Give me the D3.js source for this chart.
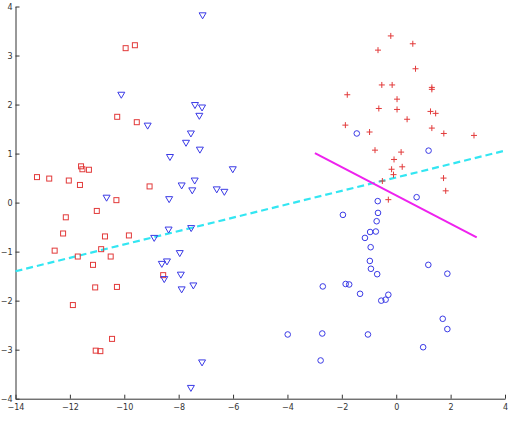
<!DOCTYPE html>
<html>
<head>
<meta charset="utf-8">
<script src="https://cdn.jsdelivr.net/npm/d3@7"></script>
<style>
  body { margin: 0; background: #fff; }
  svg { display: block; }
  .tick text { font-family: "DejaVu Sans", sans-serif; font-size: 8px; fill: #333; }
  .axis path, .axis line { stroke: #333; }
</style>
</head>
<body>
<svg id="chart" width="510" height="424"></svg>
<script>
// class 1 (red squares), class 2 (blue triangles), class 3 (red plus), class 4 (blue circles)
const squaresX = [-9.95, -9.61, -10.26, -9.54, -13.21, -12.76, -12.04, -11.63, -11.59, -11.54, -11.30, -9.07, -10.29, -11.01,
  -12.15, -12.25, -12.56, -11.71, -10.71, -9.83, -10.85, -10.50, -11.15, -11.07, -10.27, -11.89, -8.57, -10.45, -11.05, -10.88];
const squaresY = [3.15, 3.21, 1.75, 1.64, 0.52, 0.49, 0.45, 0.36, 0.74, 0.68, 0.67, 0.33, 0.05, -0.17,
  -0.30, -0.63, -0.98, -1.10, -0.69, -0.67, -0.95, -1.10, -1.27, -1.73, -1.72, -2.09, -1.48, -2.78, -3.02, -3.03];

const trianglesX = [-7.12, -10.11, -7.40, -7.14, -7.24, -9.14, -7.55, -7.73, -7.22, -8.32, -6.01, -7.89, -7.41, -7.50, -6.60,
  -6.32, -10.65, -8.35, -8.90, -8.37, -7.54, -7.96, -8.62, -8.43, -7.92, -8.53, -7.89, -7.46, -7.14, -7.55];
const trianglesY = [3.82, 2.20, 1.99, 1.94, 1.77, 1.57, 1.41, 1.22, 1.08, 0.93, 0.68, 0.35, 0.45, 0.25, 0.27,
  0.22, 0.10, 0.07, -0.72, -0.55, -0.52, -1.03, -1.25, -1.20, -1.47, -1.56, -1.77, -1.69, -3.26, -3.78];

const plusX = [-0.20, 0.61, -0.67, 0.71, -0.53, -0.15, 1.31, 1.31, -1.80, 0.03, -0.64, 0.03, 1.26, 1.45, 0.40,
  -1.87, 1.31, -0.98, 1.75, 2.86, -0.78, 0.18, -0.08, 0.22, -0.17, -0.10, 1.74, -0.51, 1.82, -0.29];
const plusY = [3.40, 3.24, 3.11, 2.73, 2.40, 2.40, 2.35, 2.31, 2.20, 2.11, 1.92, 1.90, 1.86, 1.82, 1.70,
  1.58, 1.52, 1.44, 1.41, 1.37, 1.07, 1.03, 0.88, 0.73, 0.68, 0.57, 0.50, 0.44, 0.24, 0.06];

const circlesX = [-1.45, 1.19, -0.68, 0.75, -1.96, -0.67, -0.72, -0.96, -0.75, -1.15, -0.94, -0.97, -0.93, -0.70, 1.18,
  1.88, -2.70, -1.86, -1.73, -1.33, -0.29, -0.39, -0.55, 1.71, 1.88, -3.99, -2.72, -1.04, 0.99, -2.78];
const circlesY = [1.41, 1.06, 0.03, 0.11, -0.25, -0.21, -0.38, -0.60, -0.59, -0.72, -0.91, -1.19, -1.35, -1.46, -1.27,
  -1.45, -1.71, -1.66, -1.67, -1.86, -1.88, -1.98, -2.00, -2.37, -2.58, -2.69, -2.67, -2.69, -2.95, -3.22];

// boundary lines
const dashedLineX = [-14, 4];
const dashedLineY = [-1.40, 1.06];
const solidLineX = [-2.99, 2.96];
const solidLineY = [1.01, -0.71];

const xTicks = [-14, -12, -10, -8, -6, -4, -2, 0, 2, 4];
const yTicks = [-4, -3, -2, -1, 0, 1, 2, 3, 4];

const svg = d3.select('#chart');

const x = d3.scaleLinear().domain([-14, 4]).range([15.5, 505]);
const y = d3.scaleLinear().domain([-4, 4]).range([398.7, 6.5]);

// axes, MATLAB style inward ticks
svg.append('g')
  .attr('class', 'axis')
  .attr('transform', `translate(0,${y(-4)})`)
  .call(d3.axisBottom(x).tickValues(xTicks).tickSizeInner(-4).tickSizeOuter(0).tickPadding(6).tickFormat(d3.format('d')))
  .call(g => g.selectAll('.tick text').text(d => d < 0 ? '\u2212' + Math.abs(d) : d));

svg.append('g')
  .attr('class', 'axis')
  .attr('transform', `translate(${x(-14)},0)`)
  .call(d3.axisLeft(y).tickValues(yTicks).tickSizeInner(-4).tickSizeOuter(0).tickPadding(3))
  .call(g => g.selectAll('.tick text').text(d => d < 0 ? '\u2212' + Math.abs(d) : d));

// lines
svg.append('line')
  .attr('x1', x(dashedLineX[0])).attr('y1', y(dashedLineY[0]))
  .attr('x2', x(dashedLineX[1])).attr('y2', y(dashedLineY[1]))
  .attr('stroke', '#33e6f2')
  .attr('stroke-width', 2.2)
  .attr('stroke-dasharray', '7,4');

svg.append('line')
  .attr('x1', x(solidLineX[0])).attr('y1', y(solidLineY[0]))
  .attr('x2', x(solidLineX[1])).attr('y2', y(solidLineY[1]))
  .attr('stroke', '#ee22ee')
  .attr('stroke-width', 2);

const red = '#e23a3a';
const blue = '#3a3ae6';

// squares
svg.append('g').selectAll('rect')
  .data(d3.zip(squaresX, squaresY))
  .join('rect')
  .attr('x', d => x(d[0]) - 2.5)
  .attr('y', d => y(d[1]) - 2.5)
  .attr('width', 5)
  .attr('height', 5)
  .attr('fill', 'none')
  .attr('stroke', red)
  .attr('stroke-width', 1);

// down triangles
svg.append('g').selectAll('path')
  .data(d3.zip(trianglesX, trianglesY))
  .join('path')
  .attr('d', d => {
    const cx = x(d[0]), cy = y(d[1]);
    return `M${cx - 3.5},${cy - 2.5} L${cx + 3.5},${cy - 2.5} L${cx},${cy + 3.5} Z`;
  })
  .attr('fill', 'none')
  .attr('stroke', blue)
  .attr('stroke-width', 1);

// plus
svg.append('g').selectAll('path')
  .data(d3.zip(plusX, plusY))
  .join('path')
  .attr('d', d => {
    const cx = x(d[0]), cy = y(d[1]);
    return `M${cx - 3},${cy} L${cx + 3},${cy} M${cx},${cy - 3} L${cx},${cy + 3}`;
  })
  .attr('stroke', red)
  .attr('stroke-width', 1);

// circles
svg.append('g').selectAll('circle')
  .data(d3.zip(circlesX, circlesY))
  .join('circle')
  .attr('cx', d => x(d[0]))
  .attr('cy', d => y(d[1]))
  .attr('r', 2.8)
  .attr('fill', 'none')
  .attr('stroke', blue)
  .attr('stroke-width', 1);
</script>
</body>
</html>
